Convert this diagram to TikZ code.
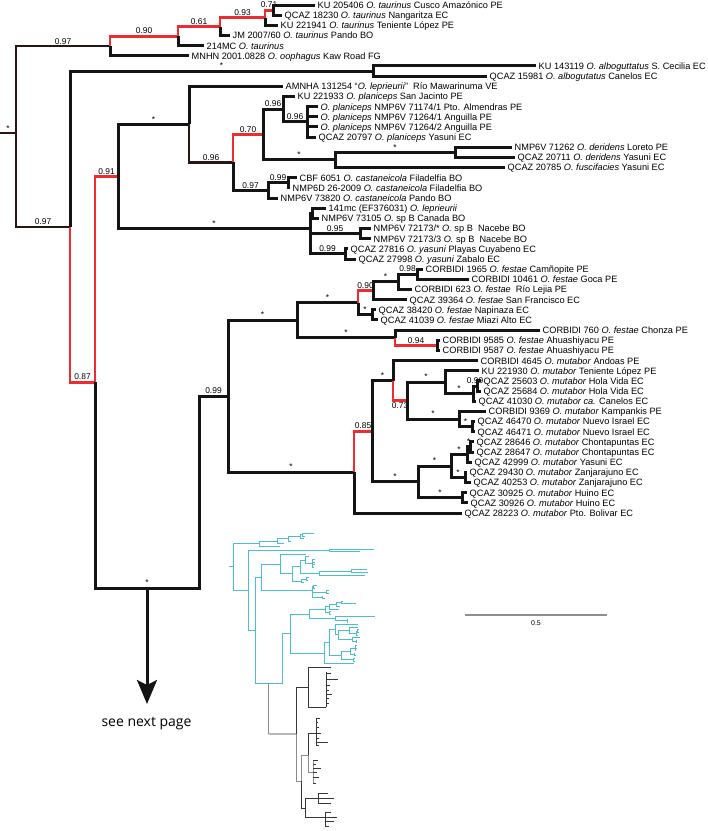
\documentclass[tikz,border=0pt]{standalone}
\usepackage{fontspec}
\setmainfont{Liberation Sans}
\newfontfamily\notefont{Open Sans}
\usetikzlibrary{arrows.meta,positioning,calc}
\definecolor{ink}{HTML}{141414}
\definecolor{umber}{HTML}{2A1515}
\definecolor{hilite}{HTML}{EE2B2F}
\definecolor{overcyan}{HTML}{4CBFCC}
\definecolor{overgray}{HTML}{8C8C8C}
\definecolor{bargray}{HTML}{8E8E8E}
\tikzset{
  branch/.style={draw=ink, line width=3pt},
  thinbranch/.style={draw=umber, line width=2pt},
  darkbranch/.style={draw=umber, line width=2.6pt},
  redbranch/.style={draw=hilite, line width=2.8pt},
  taxon/.style={anchor=base west, inner sep=0pt, xshift=2.5pt, yshift=-3.4pt, font=\fontsize{9.2}{11}\selectfont},
  support/.style={pos=0.75, above=0.8pt, inner sep=0pt, font=\fontsize{8.4}{9}\selectfont},
  droparrow/.style={draw=ink, line width=3pt, -{Stealth[length=24pt,width=20pt,inset=5pt]}},
  nextlbl/.style={anchor=base, inner sep=0pt, font=\notefont\fontsize{14}{16}\selectfont},
  overblack/.style={draw=ink!85, line width=0.7pt},
  overstem/.style={draw=overgray, line width=0.9pt},
  scalebar/.style={draw=bargray, line width=1.6pt},
  barlbl/.style={inner sep=0pt, font=\fontsize{7}{8}\selectfont}
}
\newcommand{\leaf}[4]{\coordinate (#1) at (#2,{5+(#3-1)*10.16}); \taxonname{#1}{#4}}
\newcommand{\taxonname}[2]{\node[taxon] (#1-name) at (#1) {#2};}
\newcommand{\clade}[1]{node[support]{#1}}
\newcommand{\cladebelow}[1]{node[support,below=0.8pt]{#1}}

\newcommand{\drawtree}{%
  % tips
  \leaf{t01}{315}{1}{KU 205406 \textit{O. taurinus} Cusco Amazónico PE}
  \leaf{t02}{282}{2}{QCAZ 18230 \textit{O. taurinus} Nangaritza EC}
  \leaf{t03}{278}{3}{KU 221941 \textit{O. taurinus} Teniente López PE}
  \leaf{t04}{230}{4}{JM 2007/60 \textit{O. taurinus} Pando BO}
  \leaf{t05}{204}{5}{214MC \textit{O. taurinus}}
  \leaf{t06}{189}{6}{MNHN 2001.0828 \textit{O. oophagus} Kaw Road FG}
  \leaf{t07}{536}{7}{KU 143119 \textit{O. alboguttatus} S. Cecilia EC}
  \leaf{t08}{487}{8}{QCAZ 15981 \textit{O. albogutatus} Canelos EC}
  \leaf{t09}{283}{9}{AMNHA 131254 “\textit{O. leprieurii}”\ \ Río Mawarinuma VE}
  \leaf{t10}{295}{10}{KU 221933 \textit{O. planiceps} San Jacinto PE}
  \leaf{t11}{318}{11}{\textit{O. planiceps} NMP6V 71174/1 Pto. Almendras PE}
  \leaf{t12}{318}{12}{\textit{O. planiceps} NMP6V 71264/1 Anguilla PE}
  \leaf{t13}{318}{13}{\textit{O. planiceps} NMP6V 71264/2 Anguilla PE}
  \leaf{t14}{316}{14}{QCAZ 20797 \textit{O. planiceps} Yasuni EC}
  \leaf{t15}{512}{15}{NMP6V 71262 \textit{O. deridens} Loreto PE}
  \leaf{t16}{515}{16}{QCAZ 20711 \textit{O. deridens} Yasuni EC}
  \leaf{t17}{505}{17}{QCAZ 20785 \textit{O. fuscifacies} Yasuni EC}
  \leaf{t18}{297}{18}{CBF 6051 \textit{O. castaneicola} Filadelfia BO}
  \leaf{t19}{290}{19}{NMP6D 26-2009 \textit{O. castaneicola} Filadelfia BO}
  \leaf{t20}{278}{20}{NMP6V 73820 \textit{O. castaneicola} Pando BO}
  \leaf{t21}{326}{21}{141mc (EF376031) \textit{O. leprieurii}}
  \leaf{t22}{319}{22}{NMP6V 73105 \textit{O.} sp B Canada BO}
  \leaf{t23}{371}{23}{NMP6V 72173/* \textit{O.} sp B\ \ Nacebe BO}
  \leaf{t24}{371}{24}{NMP6V 72173/3 \textit{O.} sp B\ \ Nacebe BO}
  \leaf{t25}{348}{25}{QCAZ 27816 \textit{O. yasuni} Playas Cuyabeno EC}
  \leaf{t26}{356}{26}{QCAZ 27998 \textit{O. yasuni} Zabalo EC}
  \leaf{t27}{423}{27}{CORBIDI 1965 \textit{O. festae} Camñopite PE}
  \leaf{t28}{469}{28}{CORBIDI 10461 \textit{O. festae} Goca PE}
  \leaf{t29}{412}{29}{CORBIDI 623 \textit{O. festae}\ \ Río Lejia PE}
  \leaf{t30}{407}{30}{QCAZ 39364 \textit{O. festae} San Francisco EC}
  \leaf{t31}{376}{31}{QCAZ 38420 \textit{O. festae} Napinaza EC}
  \leaf{t32}{378}{32}{QCAZ 41039 \textit{O. festae} Miazi Alto EC}
  \leaf{t33}{540}{33}{CORBIDI 760 \textit{O. festae} Chonza PE}
  \leaf{t34}{440}{34}{CORBIDI 9585 \textit{O. festae} Ahuashiyacu PE}
  \leaf{t35}{440}{35}{CORBIDI 9587 \textit{O. festae} Ahuashiyacu PE}
  \leaf{t36}{478}{36}{CORBIDI 4645 \textit{O. mutabor} Andoas PE}
  \leaf{t37}{479}{37}{KU 221930 \textit{O. mutabor} Teniente López PE}
  \leaf{t38}{481}{38}{QCAZ 25603 \textit{O. mutabor} Hola Vida EC}
  \leaf{t39}{481}{39}{QCAZ 25684 \textit{O. mutabor} Hola Vida EC}
  \leaf{t40}{476}{40}{QCAZ 41030 \textit{O. mutabor ca.} Canelos EC}
  \leaf{t41}{486}{41}{CORBIDI 9369 \textit{O. mutabor} Kampankis PE}
  \leaf{t42}{475}{42}{QCAZ 46470 \textit{O. mutabor} Nuevo Israel EC}
  \leaf{t43}{475}{43}{QCAZ 46471 \textit{O. mutabor} Nuevo Israel EC}
  \leaf{t44}{474}{44}{QCAZ 28646 \textit{O. mutabor} Chontapuntas EC}
  \leaf{t45}{474}{45}{QCAZ 28647 \textit{O. mutabor} Chontapuntas EC}
  \leaf{t46}{472}{46}{QCAZ 42999 \textit{O. mutabor} Yasuni EC}
  \leaf{t47}{467}{47}{QCAZ 29430 \textit{O. mutabor} Zanjarajuno EC}
  \leaf{t48}{471}{48}{QCAZ 40253 \textit{O. mutabor} Zanjarajuno EC}
  \leaf{t49}{467}{49}{QCAZ 30925 \textit{O. mutabor} Huino EC}
  \leaf{t50}{468}{50}{QCAZ 30926 \textit{O. mutabor} Huino EC}
  \leaf{t51}{462}{51}{QCAZ 28223 \textit{O. mutabor} Pto. Bolivar EC}
  % internal nodes
  \coordinate (root0) at (0,133);
  \coordinate (root) at (16,133);
  \coordinate (tau) at (110,46.0);
  \coordinate (n90) at (178,36.1);
  \coordinate (n61) at (220,26.6);
  \coordinate (n93) at (265,17.7);
  \coordinate (n71) at (273,10.1);
  \coordinate (alb) at (373,71.05);
  \coordinate (nA) at (70,226.6);
  \coordinate (nB) at (95,382.2);
  \coordinate (nC) at (118,176.45);
  \coordinate (nE) at (189,124.4);
  \coordinate (nG) at (233,162.45);
  \coordinate (nH) at (263,134.5);
  \coordinate (nI) at (283,109.1);
  \coordinate (nI2) at (307,121.85);
  \coordinate (nJ) at (335,159.95);
  \coordinate (nJ2) at (455,152.3);
  \coordinate (nK) at (268,190.4);
  \coordinate (nK2) at (288,182.8);
  \coordinate (nF) at (310,228.5);
  \coordinate (nF1) at (312,213.3);
  \coordinate (nF2) at (360,233.6);
  \coordinate (nF3) at (345,253.9);
  \coordinate (nD) at (199,588);
  \coordinate (nFM) at (228,396.2);
  \coordinate (nFE) at (297,320.25);
  \coordinate (nFE1) at (358,302.8);
  \coordinate (nFE3) at (373,290.75);
  \coordinate (nFE5) at (398,281.9);
  \coordinate (nFE6) at (417,274.25);
  \coordinate (nFE4) at (372,314.9);
  \coordinate (nFE2) at (395,337.7);
  \coordinate (nFE7) at (437,345.35);
  \coordinate (nMU) at (354,472.1);
  \coordinate (nMU1) at (372,431.25);
  \coordinate (nMU2) at (393,380.6);
  \coordinate (nMU3) at (407,400.6);
  \coordinate (nMU4) at (445,382.2);
  \coordinate (nMU4b) at (473,393.6);
  \coordinate (nMU4c) at (477,386);
  \coordinate (nMU5) at (459,419.0);
  \coordinate (nMU5b) at (472,426.65);
  \coordinate (nMU6) at (418,481.9);
  \coordinate (nMU7) at (451,466.0);
  \coordinate (nMU8) at (462,497.75);
  \coordinate (nMU9) at (467,454.6);
  \coordinate (nMU9b) at (470,446.95);
  \coordinate (nMU10) at (465,477.45);
  % backbone
  \draw[thinbranch] (root0) |- (root) \clade{*};
  \draw[thinbranch] (root) |- (tau) \clade{0.97};
  \draw[thinbranch] (root) |- (nA) \clade{0.97};
  \draw[redbranch] (tau) |- (n90) \clade{0.90};
  \draw[redbranch] (n90) |- (n61) \clade{0.61};
  \draw[redbranch] (n61) |- (n93) \clade{0.93};
  \draw[redbranch] (n93) |- (n71) \clade{0.71};
  \draw[branch] (nA) |- (alb) \clade{*};
  \draw[redbranch] (nA) |- (nB) \clade{0.87};
  \draw[redbranch] (nB) |- (nC) \clade{0.91};
  \draw[branch] (nB) |- (nD) \clade{*} |- (nFM) \clade{0.99};
  \draw[branch] (nC) |- (nE) \clade{*};
  \draw[branch] (nC) |- (nF) \clade{*};
  \draw[darkbranch] (nE) |- (nG) \clade{0.96};
  \draw[redbranch] (nG) |- (nH) \clade{0.70};
  \draw[branch] (nG) |- (nK) \clade{0.97};
  \draw[branch] (nH) |- (nI) \clade{0.96};
  \draw[branch] (nH) |- (nJ) \clade{*};
  \draw[branch] (nI) |- (nI2) \clade{0.96};
  \draw[branch] (nJ) |- (nJ2) \clade{*};
  \draw[branch] (nK) |- (nK2) \clade{0.99};
  \draw[branch] (nF) |- (nF2) \clade{0.95};
  \draw[branch] (nF) |- (nF3) \clade{0.99};
  \draw[branch] (nFM) |- (nFE) \clade{*};
  \draw[branch] (nFM) |- (nMU) \clade{*};
  \draw[branch] (nFE) |- (nFE1) \clade{*};
  \draw[branch] (nFE) |- (nFE2) \clade{*};
  \draw[redbranch] (nFE1) |- (nFE3) \clade{0.90};
  \draw[branch] (nFE1) |- (nFE4) \clade{*};
  \draw[branch] (nFE3) |- (nFE5) \clade{*};
  \draw[branch] (nFE5) |- (nFE6) \clade{0.98};
  \draw[redbranch] (nFE2) |- (nFE7) \clade{0.94};
  \draw[redbranch] (nMU) |- (nMU1) \clade{0.85};
  \draw[branch] (nMU1) |- (nMU2) \clade{*};
  \draw[branch] (nMU1) |- (nMU6) \clade{*};
  \draw[redbranch] (nMU2) |- (nMU3) \cladebelow{0.73};
  \draw[branch] (nMU3) |- (nMU4) \clade{*};
  \draw[branch] (nMU3) |- (nMU5) \clade{*};
  \draw[branch] (nMU4) |- (nMU4b) \clade{*};
  \draw[branch] (nMU4b) |- (nMU4c) \clade{0.99};
  \draw[branch] (nMU5) |- (nMU5b) \clade{*};
  \draw[branch] (nMU6) |- (nMU7) \clade{*};
  \draw[branch] (nMU6) |- (nMU8) \clade{*};
  \draw[branch] (nMU7) |- (nMU9) \clade{*};
  \draw[branch] (nMU7) |- (nMU10) \clade{*};
  \draw[branch] (nMU9) |- (nMU9b) \clade{*};
  % terminal branches
  \foreach \p/\c in {tau/t06, n90/t05, n61/t04, n93/t03, n71/t01, n71/t02,
      alb/t07, alb/t08, nE/t09, nI/t10, nI2/t11, nI2/t12, nI2/t13, nI2/t14,
      nJ2/t15, nJ2/t16, nJ/t17, nK2/t18, nK2/t19, nK/t20, nF/nF1, nF1/t21, nF1/t22,
      nF2/t23, nF2/t24, nF3/t25, nF3/t26, nFE6/t27, nFE6/t28, nFE5/t29, nFE3/t30,
      nFE4/t31, nFE4/t32, nFE2/t33, nFE7/t34, nFE7/t35, nMU2/t36, nMU4/t37,
      nMU4c/t38, nMU4c/t39, nMU4b/t40, nMU5/t41, nMU5b/t42, nMU5b/t43,
      nMU9b/t44, nMU9b/t45, nMU9/t46, nMU10/t47, nMU10/t48, nMU8/t49, nMU8/t50, nMU/t51}
    \draw[branch] (\p) |- (\c);
}

\begin{document}
\begin{tikzpicture}[x=1pt, y=-1pt]
\useasboundingbox (0,0) rectangle (708,831);
\drawtree
\coordinate (dropstart) at ($(nB|-nD)!0.5!(nD)$);
\coordinate (dropend) at (147,704);
\draw[droparrow] (dropstart) -- (dropend);
\node[nextlbl] (nextpage) at (146.5,726) {see next page};
% scale bar
\coordinate (bar0) at (465,615);
\coordinate (bar1) at (607,615);
\draw[scalebar] (bar0) -- (bar1) node[barlbl, midway, below=5pt] (barval) {0.5};
% overview of the whole tree
\begin{scope}[shift={(229.4,532.1)}, xscale=0.269, yscale=0.2566]
  \renewcommand{\taxonname}[2]{}
  \renewcommand{\clade}[1]{}
  \renewcommand{\cladebelow}[1]{}
  \tikzset{branch/.style={draw=overcyan, line width=0.9pt}, thinbranch/.style={branch},
    darkbranch/.style={branch}, redbranch/.style={branch}}
  \drawtree
  \coordinate (overtop) at ($(nB|-nD)!0.5!(nD)$);
\end{scope}
\coordinate (ovroot) at ($(overtop)+(0,51)$);
\coordinate (ovA) at (296,734);
\coordinate (ovB) at (308,687);
\coordinate (ovC) at (301,781);
\draw[overstem] (overtop) -- (ovroot);
\draw[overblack] (ovroot) -- (ovA);
\draw[overblack] (ovA) |- (ovB);
\draw[overstem] (ovA) |- (ovC);
\coordinate (ovB1) at (331,667);
\coordinate (ovB2) at (326,707);
\draw[overblack] (ovB) |- (ovB1);
\draw[overblack] (ovB) |- (ovB2);
\draw[overblack] (ovB2) -- (326,672);
\foreach \yy/\ll in {673/5,679/12,685/4,690/3,694/6,698/3,703/3}
  \draw[overblack] (326,\yy) -- ++(\ll,0);
\coordinate (ovC1) at (308,755);
\coordinate (ovC2) at (305,808);
\draw[overstem] (ovC) |- (ovC1);
\draw[overblack] (ovC) |- (ovC2);
\coordinate (ovC11) at (316,733);
\coordinate (ovC12) at (313,772);
\draw[overblack] (ovC1) |- (ovC11);
\draw[overstem] (ovC1) |- (ovC12);
\draw[overblack] (316,718) -- (316,745);
\foreach \yy/\ll in {718/4,722/2,727/3,733/5,738/3,742/12,745/3}
  \draw[overblack] (316,\yy) -- ++(\ll,0);
\draw[overstem] (313,760) -- (313,783);
\foreach \yy/\ll in {760/5,764/3,768/8,772/4,777/6,783/3}
  \draw[overblack] (313,\yy) -- ++(\ll,0);
\coordinate (ovC21) at (318,798);
\coordinate (ovC22) at (325,817);
\draw[overblack] (ovC2) |- (ovC21);
\draw[overblack] (ovC2) |- (ovC22);
\draw[overblack] (318,793) -- (318,803);
\foreach \yy/\ll in {793/10,798/16,803/13}
  \draw[overblack] (318,\yy) -- ++(\ll,0);
\draw[overblack] (325,812) -- (325,826);
\foreach \yy/\ll in {812/6,817/12,821/9,826/4}
  \draw[overblack] (325,\yy) -- ++(\ll,0);
\end{tikzpicture}
\end{document}
